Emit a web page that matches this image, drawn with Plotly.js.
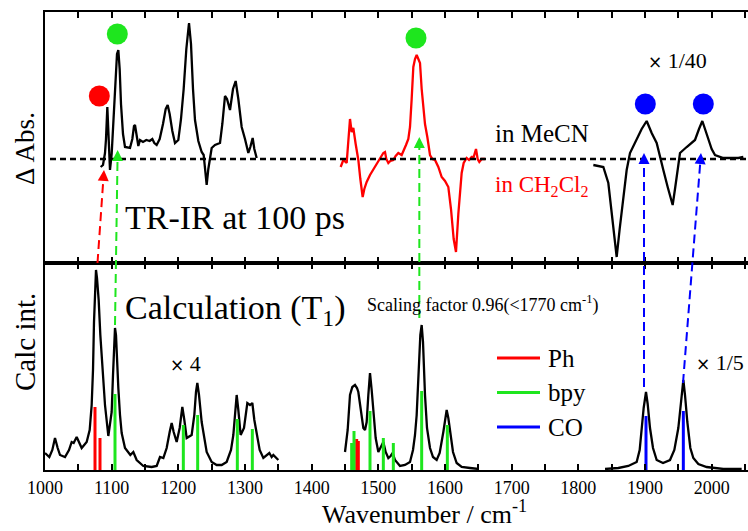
<!DOCTYPE html>
<html>
<head>
<meta charset="utf-8">
<script src="https://cdn.plot.ly/plotly-3.0.1.min.js"></script>
<style>html,body{margin:0;padding:0;background:#fff}#chart{width:748px;height:531px}</style>
</head>
<body>
<div id="chart"></div>
<script>
// ---------- Data: TR-IR at 100 ps (top panel, relative ΔAbs) ----------
const mecnX = [1083.5,1087,1090,1091.5,1093.5,1095.5,1097.5,1100,1103,1106,1108,1110,1112,1114,1117,1120,1127.5,1131,1133.5,1135,1137,1140,1142.5,1147,1152,1157,1161,1164,1167.5,1172,1177,1181,1184,1187,1191,1195,1200,1204,1208,1212,1216,1219,1222,1225,1230,1235,1238,1240,1242.5,1245,1247.5,1250,1255,1262.5,1266,1270,1273,1277.5,1282,1286,1290,1295,1300,1305,1308,1311.5,1314,1317.5];
const mecnY = [-8,-6,6,20,52,20,-11,5,40,80,105,109,90,55,25,12,11,20,33,34,25,13,19,17,19,18,20,16,14,20,35,50,54,45,28,16,19,40,70,110,136,115,70,39,18,7,4,-10,-26,-10,2,11,14,16,35,63,60,49,70,78,60,32,20,6,12,21,10,1];

const dcmX = [1443.5,1447.5,1452.5,1455,1457.5,1460,1462.5,1466,1470,1473,1476.5,1479,1482.5,1487.5,1492.5,1497.5,1502,1507.5,1510,1512,1515,1518,1522.5,1526,1530,1535,1538,1541.5,1545,1547.5,1550,1552.5,1555,1557.5,1560,1562.5,1565,1567.5,1570,1573.5,1577.5,1581,1585,1590,1595,1600,1605,1609,1613,1616.5,1620,1625,1628,1632.5,1636,1640,1643,1646.5,1649,1651.5,1655,1660];
const dcmY = [-8,-1,-4,20,40,27,31,15,-1,-20,-38,-30,-23,-16,-10,-4,0,6,7,0,-4,-2,-1,3,6,4,8,14,20,32,60,92,100,104,100,96,70,49,35,22,4,0,-1,-8,-18,-22,-28,-50,-80,-93,-55,-14,-4,1,-1,2,2,10,0,-3,0,0];

const coExpX = [1822.5,1837.5,1845,1851,1857.5,1862,1867.5,1872.5,1877.5,1887.5,1895,1902.5,1910,1917.5,1922,1927.5,1934,1941.5,1945,1948.5,1952.5,1962.5,1975,1981,1986,1990,1995,2000,2005,2017.5,2030,2040,2047.5];
const coExpY = [-6,-8,-24,-60,-98,-70,-41,-11,6,19,30,38,26,16,3,-11,-28,-46,-30,-11,6,12,19,30,38,30,19,10,4,1,1,1,2];

// assigned bands (markers above the peaks)
const markX = [1081.5, 1108.5, 1556.5, 1900.5, 1987.5];
const markY = [63, 125, 121, 55, 55];
const markColor = ['#ff0000', '#1ee61e', '#1ee61e', '#0000ff', '#0000ff'];

// ---------- Data: calculation (T1) (bottom panel, relative intensity) ----------
const calcX = [1000,1006.5,1011,1015,1019,1022.5,1030,1036,1040,1043,1047.5,1051,1055,1062.5,1067,1070,1072,1073.5,1075,1076.5,1078,1080.5,1083,1085,1088,1090,1095,1100,1102,1104,1105,1106.5,1108,1110,1112.5,1115,1120,1125,1128,1132.5,1137.5,1147.5,1160,1167.5,1172.5,1177.5,1182.5,1187,1190,1193,1197.5,1202,1206,1209,1212.5,1220,1224,1226.5,1228.5,1231,1235,1242.5,1250,1257.5,1265,1272.5,1279,1282.5,1285,1287.5,1290,1293.5,1298.5,1303.5,1307.5,1311,1314,1317.5,1322,1327.5,1333,1336.5,1340,1342.5,1350,
  null,
  1450,1454,1457.5,1461,1465,1468,1470,1474,1477.5,1480,1482.5,1485,1487.5,1490,1492.5,1496,1500,1504,1507.5,1511,1515,1518.5,1521.5,1525,1532.5,1540,1547.5,1552,1555,1557.5,1561,1563,1565,1567,1570,1573,1577.5,1582,1587.5,1592,1597.5,1600,1602.5,1605,1607.5,1612,1617.5,1625,1637.5,1650,
  null,
  1840,1860,1875,1887.5,1892,1895,1898,1901.5,1904,1907.5,1912,1917.5,1927,1937.5,1944,1950,1954,1957.5,1960,1963.5,1968,1972.5,1980,1992.5,2005,2017.5,2045];
const calcY = [17,13,20,32,22,15,13,20,28,27,33,27,22,28,40,65,100,148,185,200,192,170,135,112,82,65,34,58,95,132,142,135,110,82,55,37,22,17,15,18,10,4,3,4,13,12,22,38,47,38,28,42,63,50,32,35,55,78,87,75,48,18,8,5,5,8,20,35,60,75,60,35,42,67,65,67,50,35,20,12,15,17,13,15,10,
  null,
  18,40,75,83,85,82,78,60,42,40,48,75,97,80,58,32,18,23,28,18,12,14,17,10,4,5,8,20,35,55,105,135,145,128,75,42,22,13,10,17,38,52,60,52,38,18,7,3,2,1,
  null,
  1,2,4,8,20,42,62,78,66,42,22,10,7,10,20,42,68,90,75,48,22,12,6,3,2,1,1];

// calculated modes (stick spectra)
const phX = [1075, 1082.5, 1467.5, 1470];
const phH = [63, 32, 31, 29];
const bpyX = [1105, 1207.5, 1229, 1288.5, 1311, 1460, 1463.5, 1487.5, 1507.5, 1522.5, 1565, 1603.5];
const bpyH = [76, 45, 55, 51, 41, 27, 39, 59, 32, 27, 79, 45];
const coX = [1901.5, 1957.5];
const coH = [54, 59];
const groupNames = ['Ph', 'bpy', 'CO'];
const groupColors = ['#ff0000', '#1ee61e', '#0000ff'];

// correspondence arrows: calc position/height -> experimental position/height
const arrowColor = ['#ff0000', '#1ee61e', '#1ee61e', '#0000ff', '#0000ff'];
const arrowCalcX = [1078.75, 1105, 1561.5, 1898.5, 1957];
const arrowCalcH = [207, 145, 152, 83, 87];
const arrowExpX = [1088.5, 1109, 1561.5, 1898.5, 1984];
const arrowExpH = [-11, 9, 22, 6, 6];

// ---------- Build ----------
const FONT = "'Liberation Serif', 'Times New Roman', serif";
const BOT_TOP = 207, TOP_MIN = -104, TOP_MAX = 147;
const SPLIT = 207 / 458;
const botPaper = v => v / BOT_TOP * SPLIT;
const topPaper = v => SPLIT + (v - TOP_MIN) / (TOP_MAX - TOP_MIN) * (1 - SPLIT);
const pxX = px => (px - 45) / 703;
const pxY = py => (470 - py) / 458;

function sticks(xs, hs) {
  const x = [], y = [];
  xs.forEach((v, i) => { x.push(v, v, null); y.push(0, hs[i], null); });
  return {x, y};
}

const ph = sticks(phX, phH), bpy = sticks(bpyX, bpyH), co = sticks(coX, coH);

const traces = [
  {x: mecnX, y: mecnY, xaxis: 'x2', yaxis: 'y2', mode: 'lines', line: {color: '#000', width: 2.3}, showlegend: false, hoverinfo: 'skip'},
  {x: dcmX, y: dcmY, xaxis: 'x2', yaxis: 'y2', mode: 'lines', line: {color: '#ff0000', width: 2.3}, showlegend: false, hoverinfo: 'skip'},
  {x: coExpX, y: coExpY, xaxis: 'x2', yaxis: 'y2', mode: 'lines', line: {color: '#000', width: 2.3}, showlegend: false, hoverinfo: 'skip'},
  {x: markX, y: markY, xaxis: 'x2', yaxis: 'y2', mode: 'markers', marker: {size: 21, color: markColor}, showlegend: false, hoverinfo: 'skip'},
  {x: calcX, y: calcY, xaxis: 'x', yaxis: 'y', mode: 'lines', line: {color: '#000', width: 2.3}, connectgaps: false, showlegend: false, hoverinfo: 'skip'},
  {x: ph.x, y: ph.y, xaxis: 'x', yaxis: 'y', mode: 'lines', name: groupNames[0], showlegend: false, line: {color: groupColors[0], width: 3}},
  {x: bpy.x, y: bpy.y, xaxis: 'x', yaxis: 'y', mode: 'lines', name: groupNames[1], showlegend: false, line: {color: groupColors[1], width: 3}},
  {x: co.x, y: co.y, xaxis: 'x', yaxis: 'y', mode: 'lines', name: groupNames[2], showlegend: false, line: {color: groupColors[2], width: 3}}
];

const shapes = [
  {type: 'line', xref: 'x2', yref: 'y2', x0: 1007.5, x1: 2054.5, y0: 0, y1: 0, line: {color: '#000', width: 2.5, dash: '6px,4px'}}
];
const annotations = [];
arrowCalcX.forEach((xc, i) => {
  const yc = arrowCalcH[i] >= BOT_TOP ? SPLIT : botPaper(arrowCalcH[i]);
  const ye = topPaper(arrowExpH[i]);
  const ye2 = ye - 9 / 458;
  const frac = (ye2 - yc) / (ye - yc);
  shapes.push({type: 'line', xref: 'x', yref: 'paper', x0: xc, y0: yc,
    x1: xc + (arrowExpX[i] - xc) * frac, y1: ye2,
    line: {color: arrowColor[i], width: 2, dash: '9px,5px'}});
  const dxpx = (arrowExpX[i] - xc) / 1.5, dypx = (ye - yc) * 458;
  const L = Math.sqrt(dxpx * dxpx + dypx * dypx);
  annotations.push({x: arrowExpX[i], y: arrowExpH[i], xref: 'x2', yref: 'y2', text: '', showarrow: true,
    arrowhead: 2, arrowsize: 1.1, arrowwidth: 2, arrowcolor: arrowColor[i],
    ax: -dxpx / L * 10, ay: dypx / L * 10});
});

// legend (drawn as lines + labels, matching the reference look)
groupNames.forEach((n, i) => {
  const py = pxY(358 + i * 34.5);
  shapes.push({type: 'line', xref: 'paper', yref: 'paper', x0: pxX(497), x1: pxX(540), y0: py, y1: py,
    line: {color: groupColors[i], width: 3}});
  annotations.push({text: n, xref: 'paper', yref: 'paper', x: pxX(546), y: py, xanchor: 'left', yanchor: 'middle',
    showarrow: false, font: {family: FONT, size: 25, color: '#000'}});
});

const TIMES = '<span style="font-family:DejaVu Sans;font-size:17px">×</span>';
const txt = (text, x, y, yref, size, color, xanchor) => ({text, x, y, xref: 'x2', yref, showarrow: false,
  xanchor: xanchor || 'left', yanchor: 'middle', font: {family: FONT, size, color: color || '#000'}});
annotations.push(
  txt(TIMES + ' 1/40', 1949, 99, 'y2', 22, '#000', 'center'),
  txt('in MeCN', 1672, 26, 'y2', 25),
  txt('in CH<sub>2</sub>Cl<sub>2</sub>', 1672, -27, 'y2', 23, '#ff0000'),
  txt('TR-IR at 100 ps', 1117, -58, 'y2', 34),
  txt('Calculation (T<sub>1</sub>)', 1117, 160, 'y', 34),
  txt(TIMES + ' 4', 1184, 107, 'y', 22),
  txt(TIMES + ' 1/5', 1974, 108, 'y', 22),
  txt('Scaling factor 0.96(&lt;1770 cm<sup>-1</sup>)', 1480, 166, 'y', 18)
);
// axis titles (placed as in the reference)
annotations.push(
  {text: 'Δ Abs.', xref: 'paper', yref: 'paper', x: pxX(25), y: pxY(149), textangle: -90, showarrow: false,
    xanchor: 'center', yanchor: 'middle', font: {family: FONT, size: 27, color: '#000'}},
  {text: 'Calc int.', xref: 'paper', yref: 'paper', x: pxX(25), y: pxY(342), textangle: -90, showarrow: false,
    xanchor: 'center', yanchor: 'middle', font: {family: FONT, size: 29, color: '#000'}},
  {text: 'Wavenumber / cm<sup>-1</sup>', xref: 'paper', yref: 'paper', x: pxX(424), y: pxY(531), showarrow: false,
    xanchor: 'center', yanchor: 'bottom', font: {family: FONT, size: 26, color: '#000'}}
);

const xbase = {range: [1000, 2054.5], showgrid: false, zeroline: false, showline: true, linecolor: '#000', linewidth: 2,
  ticks: 'inside', ticklen: 6, tickwidth: 2, tickcolor: '#000', dtick: 100, tick0: 1000,
  minor: {dtick: 50, ticks: 'inside', ticklen: 6, tickwidth: 2, tickcolor: '#000'}};

const layout = {
  width: 748, height: 531,
  margin: {l: 45, r: 0, t: 12, b: 61},
  paper_bgcolor: '#fff', plot_bgcolor: '#fff',
  font: {family: FONT, color: '#000'},
  xaxis: Object.assign({}, xbase, {anchor: 'y', mirror: 'ticks', tickfont: {family: FONT, size: 18}}),
  xaxis3: Object.assign({}, xbase, {anchor: 'y', overlaying: 'x', ticks: 'outside', showticklabels: false, showline: false,
    minor: {dtick: 50, ticks: 'outside', ticklen: 5, tickwidth: 2, tickcolor: '#000'}}),
  xaxis2: Object.assign({}, xbase, {anchor: 'y2', mirror: 'ticks', showticklabels: false, matches: 'x'}),
  yaxis: {domain: [0, SPLIT], range: [0, BOT_TOP], showgrid: false, zeroline: false, showline: true, linecolor: '#000', linewidth: 2,
    ticks: '', showticklabels: false},
  yaxis2: {domain: [SPLIT, 1], range: [TOP_MIN, TOP_MAX], showgrid: false, zeroline: false, showline: true, linecolor: '#000', linewidth: 2,
    ticks: '', showticklabels: false},
  showlegend: false,
  shapes, annotations
};

Plotly.newPlot('chart', traces, layout, {displayModeBar: false, staticPlot: true});
</script>
</body>
</html>
